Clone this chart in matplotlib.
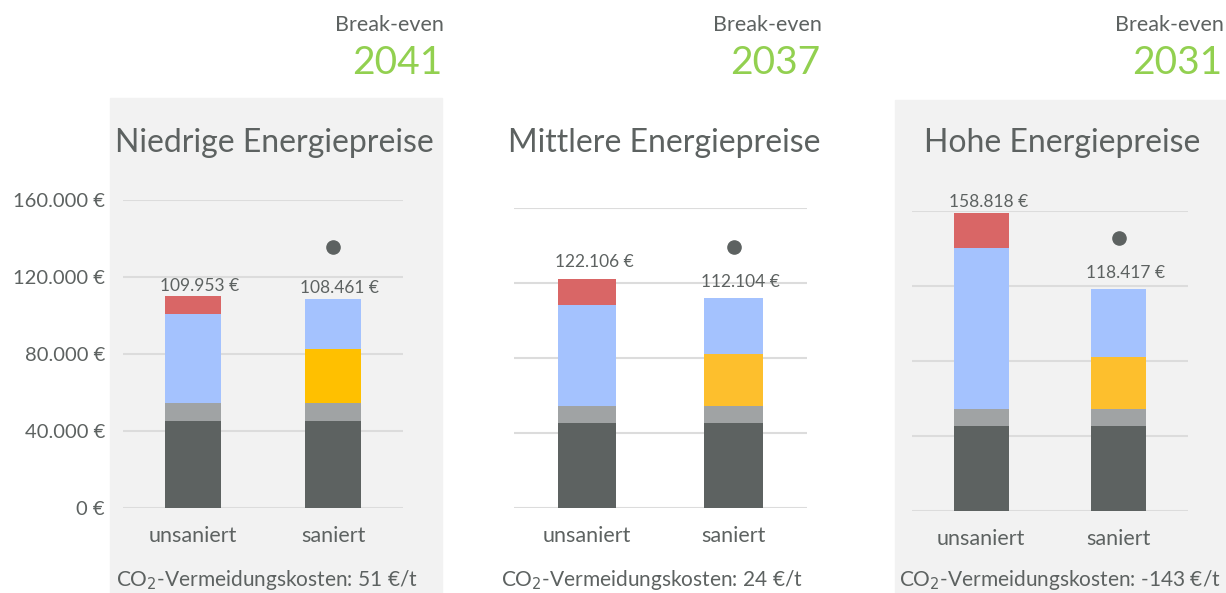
import matplotlib
matplotlib.use('Agg')
import matplotlib.pyplot as plt
from matplotlib.patches import Rectangle
from matplotlib.ticker import FuncFormatter

plt.rcParams['font.family'] = ['Lato', 'DejaVu Sans']

W, H = 1226, 593

categories = ['unsaniert', 'saniert']
titles = ['Niedrige Energiepreise', 'Mittlere Energiepreise', 'Hohe Energiepreise']
break_even = ['2041', '2037', '2031']
co2_cost = ['51', '24', '-143']

# stacked segments per panel: [unsaniert, saniert]
seg_dark = [[45300, 45300], [45200, 45200], [45100, 45100]]
seg_grey = [[9300, 9300], [9200, 9200], [9200, 9200]]
seg_yellow = [[0, 27860], [0, 27900], [0, 27800]]
seg_blue = [[46100, 26001], [53700, 29804], [86000, 36317]]
seg_red = [[9253, 0], [14006, 0], [18518, 0]]
totals = [[109953, 108461], [122106, 112104], [158818, 118417]]
dots = [135700, 139400, 145400]

colors = ['#5d6261', '#a0a3a4', '#ffc000', '#a4c2fe', '#d96666']
yellow_alt = '#fdbf2d'
txt = '#5d6261'
green = '#92d050'
grid_c = '#dcdcdc'

# pixel layout (x0, x1, y_top_gridline, y_zero)
boxes = [(123, 403, 200.3, 507.7), (514, 806.7, 208, 507.7), (912.3, 1187.7, 211, 510.7)]
label_off = [[10, 11], [17, 16], [11, 16]]
title_x = [274, 664, 1062]
co2_x = [267, 652, 1060]
be_right = [444, 822, 1224]
bg = [(110, 442, 98), None, (895, 1226, 100)]


def euro(v, pos=None):
    return '{:,.0f} €'.format(v).replace(',', '.')


fig = plt.figure(figsize=(W / 100, H / 100), dpi=100)

for i in range(3):
    if bg[i] is not None:
        x0, x1, yt = bg[i]
        fig.patches.append(Rectangle((x0 / W, 0), (x1 - x0) / W, 1 - yt / H,
                                     transform=fig.transFigure, color='#f2f2f2', zorder=-5))

    x0, x1, yt, yb = boxes[i]
    ax = fig.add_axes([x0 / W, 1 - yb / H, (x1 - x0) / W, (yb - yt) / H])
    ax.set_facecolor('none')
    ax.set_xlim(-0.5, 1.5)
    ax.set_ylim(0, 160000)
    ax.set_yticks(range(0, 160001, 40000))
    ax.grid(axis='y', color=grid_c, linewidth=1.5)
    ax.set_axisbelow(True)
    for s in ax.spines.values():
        s.set_visible(False)
    ax.tick_params(length=0, colors=txt)
    ax.set_xticks([0, 1])
    ax.set_xticklabels(categories, fontsize=15.5, color=txt)
    ax.tick_params(axis='x', pad=13)
    if i == 0:
        ax.yaxis.set_major_formatter(FuncFormatter(euro))
        ax.tick_params(axis='y', labelsize=14.5, pad=13)
    else:
        ax.set_yticklabels([])

    segs = [seg_dark[i], seg_grey[i], seg_yellow[i], seg_blue[i], seg_red[i]]
    cols = list(colors)
    if i > 0:
        cols[2] = yellow_alt
    bottom = [0, 0]
    for vals, c in zip(segs, cols):
        ax.bar([0, 1], vals, bottom=bottom, width=0.4, color=c, zorder=2)
        bottom = [b + v for b, v in zip(bottom, vals)]

    for j in range(2):
        ax.annotate(euro(totals[i][j]), (j, totals[i][j]), xytext=(7, label_off[i][j]),
                    textcoords='offset pixels', ha='center', va='center',
                    fontsize=12.5, color=txt, annotation_clip=False)

    ax.plot([1], [dots[i]], 'o', color='#5d6261', markersize=9.5, clip_on=False, zorder=3)

    fig.text(title_x[i] / W, 1 - 143 / H, titles[i], ha='center', va='center',
             fontsize=23, color=txt)
    fig.text(co2_x[i] / W, 1 - 580 / H, 'CO$_2$-Vermeidungskosten: ' + co2_cost[i] + ' €/t',
             ha='center', va='center', fontsize=15, color=txt)
    fig.text(be_right[i] / W, 1 - 25 / H, 'Break-even', ha='right', va='center',
             fontsize=15.5, color=txt)
    fig.text((be_right[i] - 2) / W, 1 - 63 / H, break_even[i], ha='right', va='center',
             fontsize=28, color=green)

fig.savefig('out.png', dpi=100)
